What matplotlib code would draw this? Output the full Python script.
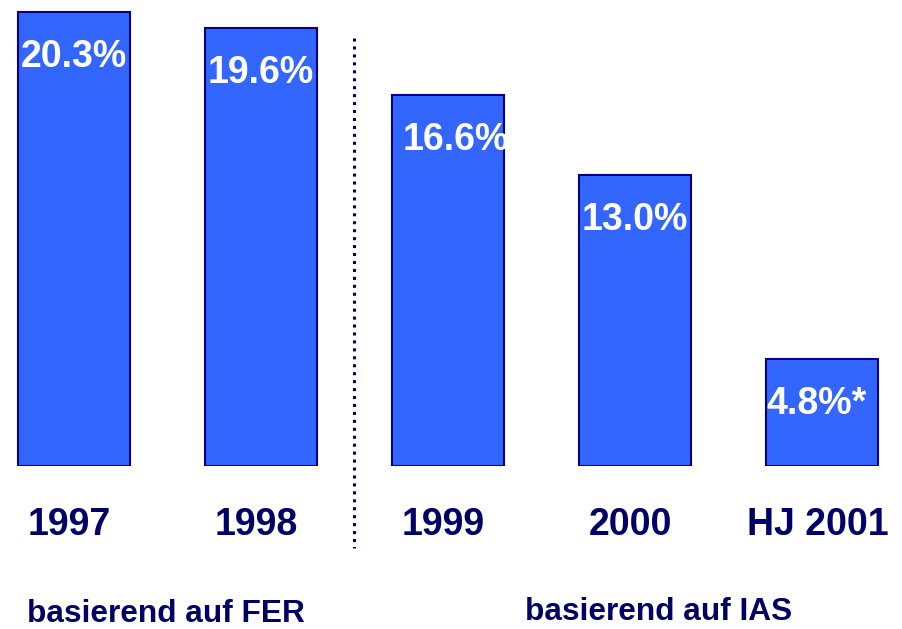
import matplotlib
matplotlib.use("Agg")
import matplotlib.pyplot as plt
import matplotlib.transforms as mtransforms

categories = ["1997", "1998", "1999", "2000", "HJ 2001"]
values = [20.3, 19.6, 16.6, 13.0, 4.8]
value_labels = ["20.3%", "19.6%", "16.6%", "13.0%", "4.8%*"]
group_labels = ["basierend auf FER", "basierend auf IAS"]

BAR = "#3366FF"
EDGE = "#000080"
NAVY = "#000066"
FONT = "Liberation Sans"

W, H = 903, 629
fig = plt.figure(figsize=(W / 100, H / 100), dpi=100)
ax = fig.add_axes([0, 163 / H, 1, (H - 163) / H])
ax.set_xlim(-74 / 187, 4 + (W - 822) / 187)
ax.set_ylim(0, 466 / 22.36)
ax.axis("off")

x = list(range(len(categories)))
ax.bar(x, values, width=0.6, color=BAR, edgecolor=EDGE, linewidth=1.5)

label_dx = [0, 0, 0.04, 0, -0.03]
for i, (v, lab) in enumerate(zip(values, value_labels)):
    ax.annotate(lab, xy=(i + label_dx[i], v), xytext=(0, -32.5), textcoords="offset points",
                ha="center", va="center", color="white", fontsize=27,
                fontweight="bold", family=FONT)

trans = mtransforms.blended_transform_factory(ax.transData, fig.transFigure)
for i, c in enumerate(categories):
    ax.text(i - 0.025, 1 - 525 / H, c, transform=trans, ha="center", va="center",
            color=NAVY, fontsize=27, fontweight="bold", family=FONT, clip_on=False)

ax.plot([1.5, 1.5], [1 - 38 / H, 1 - 548 / H], transform=trans, color=NAVY,
        linewidth=2.2, linestyle=(0, (1, 1.6)), dash_capstyle="butt", clip_on=False)

fig.text(27 / W, 1 - 614 / H, group_labels[0], ha="left", va="center",
         color=NAVY, fontsize=22.8, fontweight="bold", family=FONT)
fig.text(525 / W, 1 - 612 / H, group_labels[1], ha="left", va="center",
         color=NAVY, fontsize=22.8, fontweight="bold", family=FONT)

fig.savefig("out.png", dpi=100, facecolor="white")
